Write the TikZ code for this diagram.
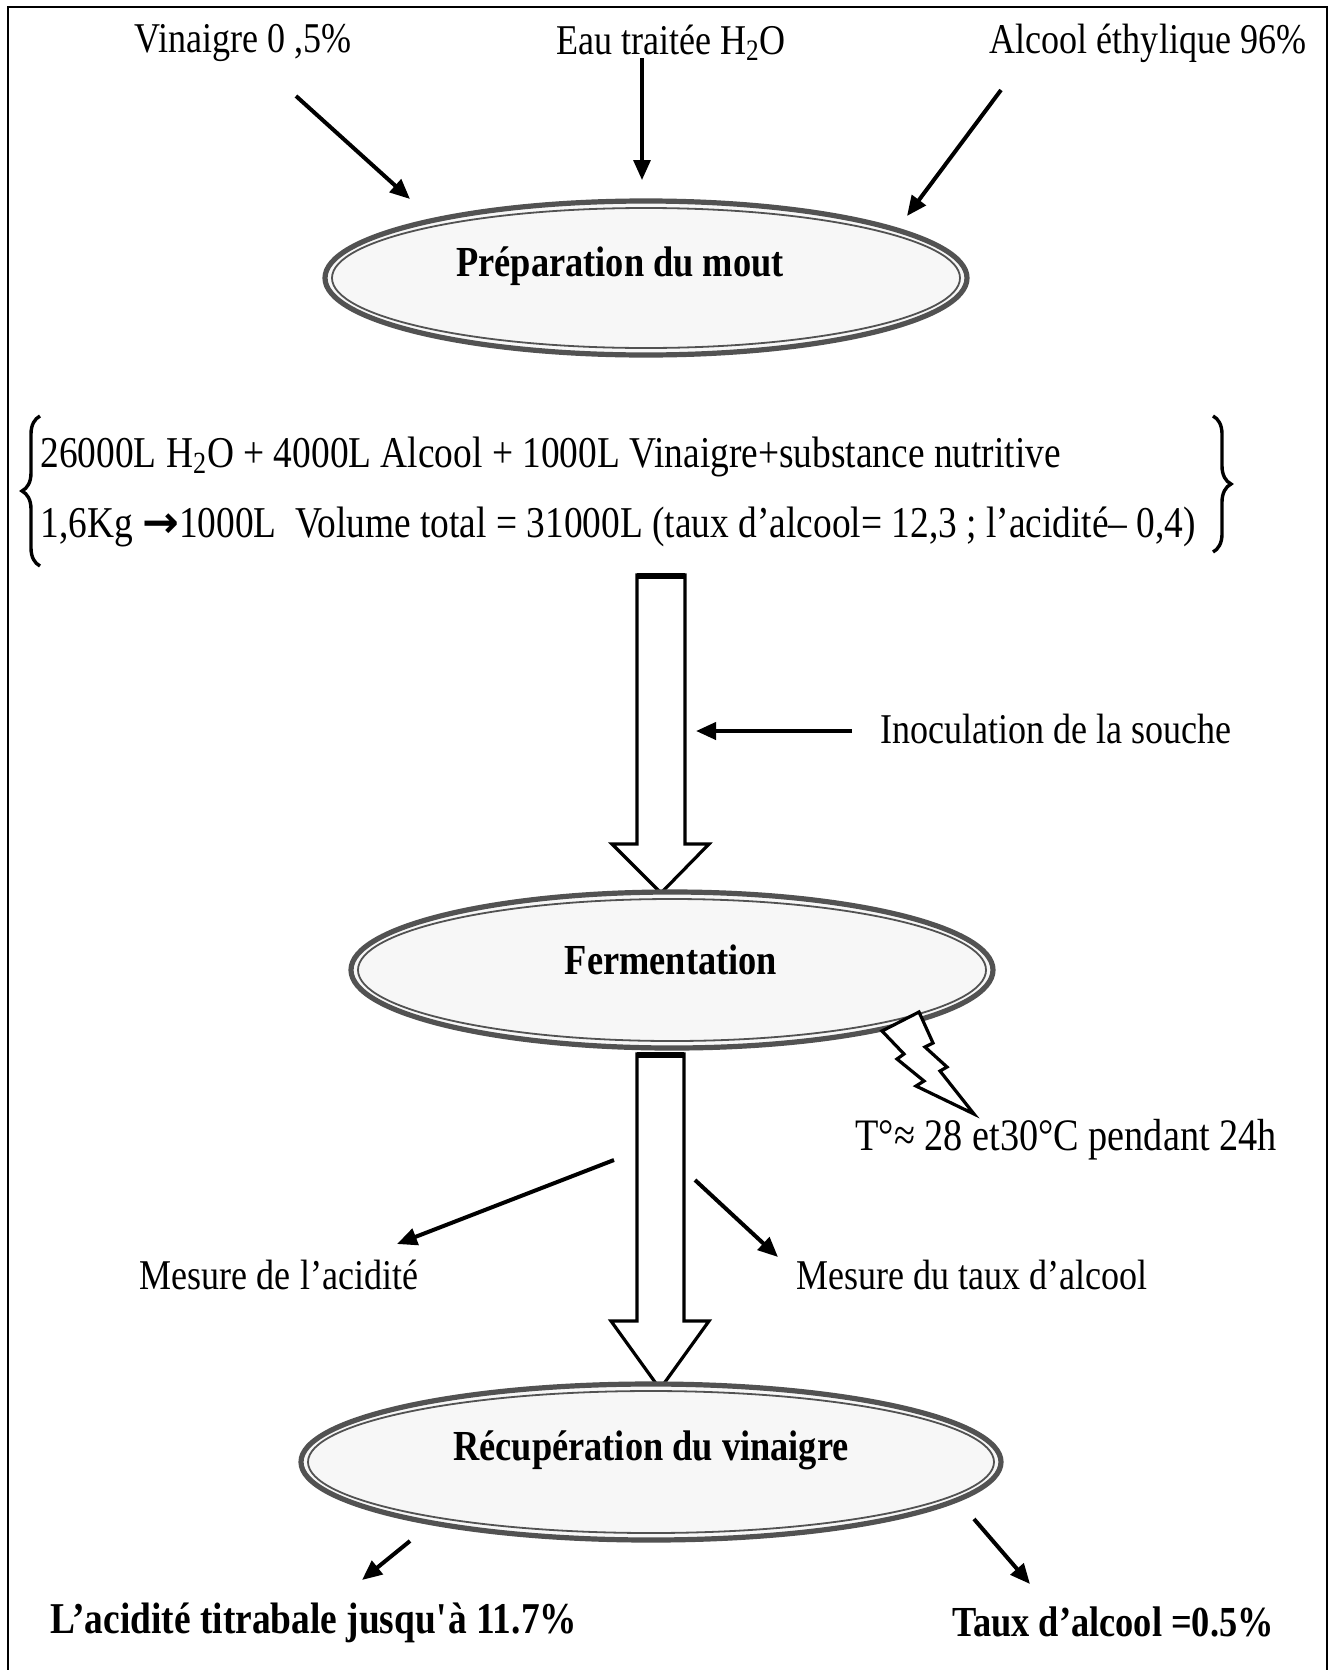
\documentclass[tikz,border=0pt]{standalone}
\usepackage{fontspec}
\setmainfont{Liberation Serif}[FakeStretch=0.85]
\newfontfamily\arrowglyph{DejaVu Sans}
\usetikzlibrary{arrows.meta,decorations.pathreplacing}
\begin{document}
\begin{tikzpicture}[x=0.5pt,y=-0.5pt,
  lbl/.style={font=\fontsize{21.2}{25}\selectfont, inner sep=0pt},
  blbl/.style={font=\fontsize{21.4}{25}\selectfont\bfseries, inner sep=0pt},
  arr/.style={line width=2pt,-{Triangle[length=10pt,width=8.5pt]}},
  ring/.style={draw=black!68, line width=2.6pt, fill=black!3},
  inring/.style={draw=black!68, line width=0.9pt},
  hollow/.style={draw=black, line width=1.6pt, fill=white, line join=miter},
  bracestyle/.style={line width=1.7pt, decorate},
]
\useasboundingbox (0,0) rectangle (1333,1670);
\fill[white] (0,0) rectangle (1333,1670);

% outer frame (open at the bottom)
\draw[line width=1.1pt] (8,1670) -- (8,7) -- (1327,7) -- (1327,1670);

% ---- inputs ----
\node[lbl] (vin) at (243,43) {Vinaigre 0 ,5\%};
\node[lbl] (eau) at (671,43) {Eau traitée H\textsubscript{2}O};
\node[lbl] (alc) at (1148,43) {Alcool éthylique 96\%};

\coordinate (vin-s) at (296,96);   \coordinate (vin-e) at (410,199);
\coordinate (eau-s) at (642,58);   \coordinate (eau-e) at (642,180);
\coordinate (alc-s) at (1001,90);  \coordinate (alc-e) at (907,216);
\draw[arr] (vin-s) -- (vin-e);
\draw[arr, line width=1.6pt] (eau-s) -- (eau-e);
\draw[arr] (alc-s) -- (alc-e);

% ---- step 1 ----
\coordinate (e1) at (646,278);
\draw[ring] (e1) ellipse [x radius=321, y radius=77];
\draw[inring] (e1) ellipse [x radius=314, y radius=70];
\node[blbl] (t1) at (620,266) {Préparation du mout};

% ---- composition ----
\node[lbl, font=\fontsize{22}{26}\selectfont, anchor=west] (l1) at (40,457)
  {26000L H\textsubscript{2}O + 4000L Alcool + 1000L Vinaigre+substance nutritive};
\node[lbl, font=\fontsize{22}{26}\selectfont, anchor=west] (l2) at (40,527)
  {1,6Kg {\arrowglyph\bfseries →}1000L\ \ Volume total = 31000L (taux d’alcool= 12,3 ; l’acidité– 0,4)};
\draw[bracestyle, decoration={brace, amplitude=9pt}] (40,566) -- (40,416);
\draw[bracestyle, decoration={brace, amplitude=9pt}] (1213,416) -- (1213,552);

% ---- hollow arrow to fermentation ----
\draw[hollow] (637,575) -- (685,575) -- (685,844) -- (709,844) -- (661,893)
  -- (612,844) -- (637,844) -- cycle;
\draw[line width=2.6pt] (637,576) -- (685,576);

\node[lbl, anchor=west] (inoc) at (880,729) {Inoculation de la souche};
\coordinate (inoc-s) at (852,731); \coordinate (inoc-e) at (696,731);
\draw[arr] (inoc-s) -- (inoc-e);

% ---- step 2 ----
\coordinate (e2) at (672,970);
\draw[ring] (e2) ellipse [x radius=321, y radius=78];
\draw[inring] (e2) ellipse [x radius=314, y radius=71];
\node[blbl] (t2) at (671,960) {Fermentation};

% lightning bolt
\draw[line width=1.6pt, fill=white, line join=miter]
  (882,1031) -- (919,1012) -- (933,1043) -- (925,1047) -- (947,1067)
  -- (940,1071) -- (974,1114) -- (916,1086) -- (924,1081) -- (897,1059)
  -- (904,1054) -- cycle;
\node[lbl, font=\fontsize{22.5}{26}\selectfont, anchor=west] (temp) at (855,1140)
  {T°≈ 28 et30°C pendant 24h};

% ---- hollow arrow to recovery ----
\draw[hollow] (637,1054) -- (684,1054) -- (684,1321) -- (709,1321) -- (660,1389)
  -- (611,1321) -- (637,1321) -- cycle;
\draw[line width=2.6pt] (637,1055) -- (684,1055);

\node[lbl] (acid) at (279,1275) {Mesure de l’acidité};
\node[lbl, anchor=west] (taux) at (796,1275) {Mesure du taux d’alcool};
\coordinate (acid-s) at (614,1160); \coordinate (acid-e) at (397,1244);
\coordinate (taux-s) at (695,1180); \coordinate (taux-e) at (778,1257);
\draw[arr] (acid-s) -- (acid-e);
\draw[arr] (taux-s) -- (taux-e);

% ---- step 3 ----
\coordinate (e3) at (651,1462);
\draw[ring] (e3) ellipse [x radius=350, y radius=78];
\draw[inring] (e3) ellipse [x radius=343, y radius=71];
\node[blbl] (t3) at (651,1450) {Récupération du vinaigre};

% ---- results ----
\node[blbl, font=\fontsize{22}{26}\selectfont\bfseries] (r1) at (314,1623)
  {L’acidité titrabale jusqu\textquotesingle à 11.7\%};
\node[blbl] (r2) at (1113,1622) {Taux d’alcool =0.5\%};
\coordinate (r1-s) at (410,1541); \coordinate (r1-e) at (362,1580);
\coordinate (r2-s) at (974,1519); \coordinate (r2-e) at (1030,1584);
\draw[arr] (r1-s) -- (r1-e);
\draw[arr] (r2-s) -- (r2-e);
\end{tikzpicture}
\end{document}
